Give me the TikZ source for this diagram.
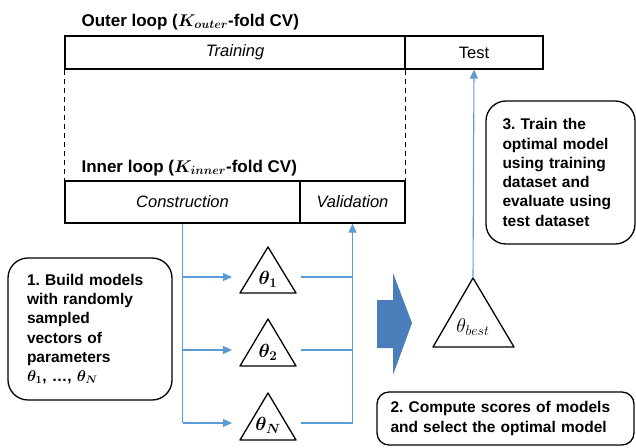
\documentclass[tikz,border=0pt]{standalone}
\usepackage{fix-cm}
\usepackage{amsmath, bm, fontspec, tkz-euclide}
\setmainfont{Liberation Sans}
\usetikzlibrary{arrows.meta}
\definecolor{lineblue}{RGB}{91,155,213}
\definecolor{arrowblue}{RGB}{74,126,187}
\frenchspacing
\tikzset{>={Triangle[length=9pt,width=8pt]},
  part/.style={draw, line width=1.3pt, inner sep=0pt, minimum height=33pt,
    font=\fontsize{16.5}{19}\selectfont},
  loop title/.style={anchor=base west, font=\bfseries\fontsize{17}{20}\selectfont},
  stepbox/.style={draw, line width=1.3pt, rounded corners=20pt, inner sep=0pt,
    align=left, font=\bfseries\fontsize{15.5}{19.3}\selectfont},
  flow/.style={lineblue, line width=1.1pt},
  tri/.style={line width=1.3pt},
  para/.style={font=\fontsize{19}{21}\selectfont}}

\begin{document}
\begin{tikzpicture}[x=1pt,y=-1pt]
    \useasboundingbox (0,0) rectangle (636,447);
    % outer loop
    \node[loop title] (outertitle) at (78,26) {Outer loop ($\bm{K}_{\bm{outer}}$-fold CV)};
    \node[part, minimum width=340pt, font=\itshape\fontsize{16.5}{19}\selectfont] (training) at (235,52.5) {Training};
    \node[part, minimum width=138pt] (test) at (474,52.5) {Test};
    % inner loop
    \node[loop title] (innertitle) at (78,172) {Inner loop ($\bm{K}_{\bm{inner}}$-fold CV)};
    \node[part, minimum width=235pt, minimum height=42pt, font=\itshape\fontsize{16.5}{19}\selectfont] (constr) at (182.5,202) {Construction};
    \node[part, minimum width=105pt, minimum height=42pt, font=\itshape\fontsize{16.5}{19}\selectfont] (valid) at (352.5,202) {Validation};
    \draw[line width=1.2pt, dash pattern=on 5pt off 4pt] (training.south west) -- (constr.north west);
    \draw[line width=1.2pt, dash pattern=on 5pt off 4pt] (training.south east) -- (valid.north east);
    % models
    \tkzDefPoints{240/293/A1, 268/247/B1, 296/293/C1,
      240/366/A2, 268/319/B2, 296/366/C2,
      240/440/A3, 268/393/B3, 296/440/C3,
      433/347/A4, 473/278/B4, 514/347/C4}
    \tkzDrawPolygon[tri](A1,B1,C1)
    \tkzDrawPolygon[tri](A2,B2,C2)
    \tkzDrawPolygon[tri](A3,B3,C3)
    \tkzDrawPolygon[tri](A4,B4,C4)
    \node[para] (th1) at (268,279) {$\bm{\theta}_{\bm{1}}$};
    \node[para] (th2) at (268,352) {$\bm{\theta}_{\bm{2}}$};
    \node[para] (thN) at (268,425) {$\bm{\theta}_{\bm{N}}$};
    \node[para, font=\fontsize{20}{22}\selectfont] (thbest) at (473,327) {$\theta_{best}$};
    % connectors
    \tkzDefPoints{182.5/277/s1, 182.5/350/s2, 182.5/423/s3,
      232/277/e1, 232/350/e2, 232/423/e3,
      301/277/r1, 301/350/r2, 301/423/r3,
      352.5/277/v1, 352.5/350/v2, 352.5/423/v3}
    \draw[flow] (constr.south) -- (s3);
    \draw[flow, ->] (s1) -- (e1);
    \draw[flow, ->] (s2) -- (e2);
    \draw[flow, ->] (s3) -- (e3);
    \draw[flow] (r1) -- (v1);
    \draw[flow] (r2) -- (v2);
    \draw[flow] (r3) -- (v3);
    \draw[flow, ->] (v3) -- (valid.south);
    \draw[flow, ->] (B4) -- (test.south);
    % block arrow
    \fill[arrowblue] (377,300) -- (393,300) -- (393,273) -- (412,323)
      -- (393,375) -- (393,348) -- (377,348) -- cycle;
    % steps
    \node[stepbox, minimum width=164pt, minimum height=142pt, text width=126pt] (step1) at (90,329)
      {1. Build models\\ with randomly\\ sampled\\ vectors of\\ parameters\\ $\bm{\theta}_{\bm{1}}$, …, $\bm{\theta}_{\bm{N}}$};
    \node[stepbox, minimum width=149pt, minimum height=143pt, text width=116pt] (step3) at (560.5,172.5)
      {3. Train the\\ optimal model\\ using training\\ dataset and\\ evaluate using\\ test dataset};
    \node[stepbox, rounded corners=12pt, minimum width=257pt, minimum height=53pt, text width=230pt] (step2) at (505.5,418.5)
      {2. Compute scores of models\\ and select the optimal model};
\end{tikzpicture}
\end{document}
